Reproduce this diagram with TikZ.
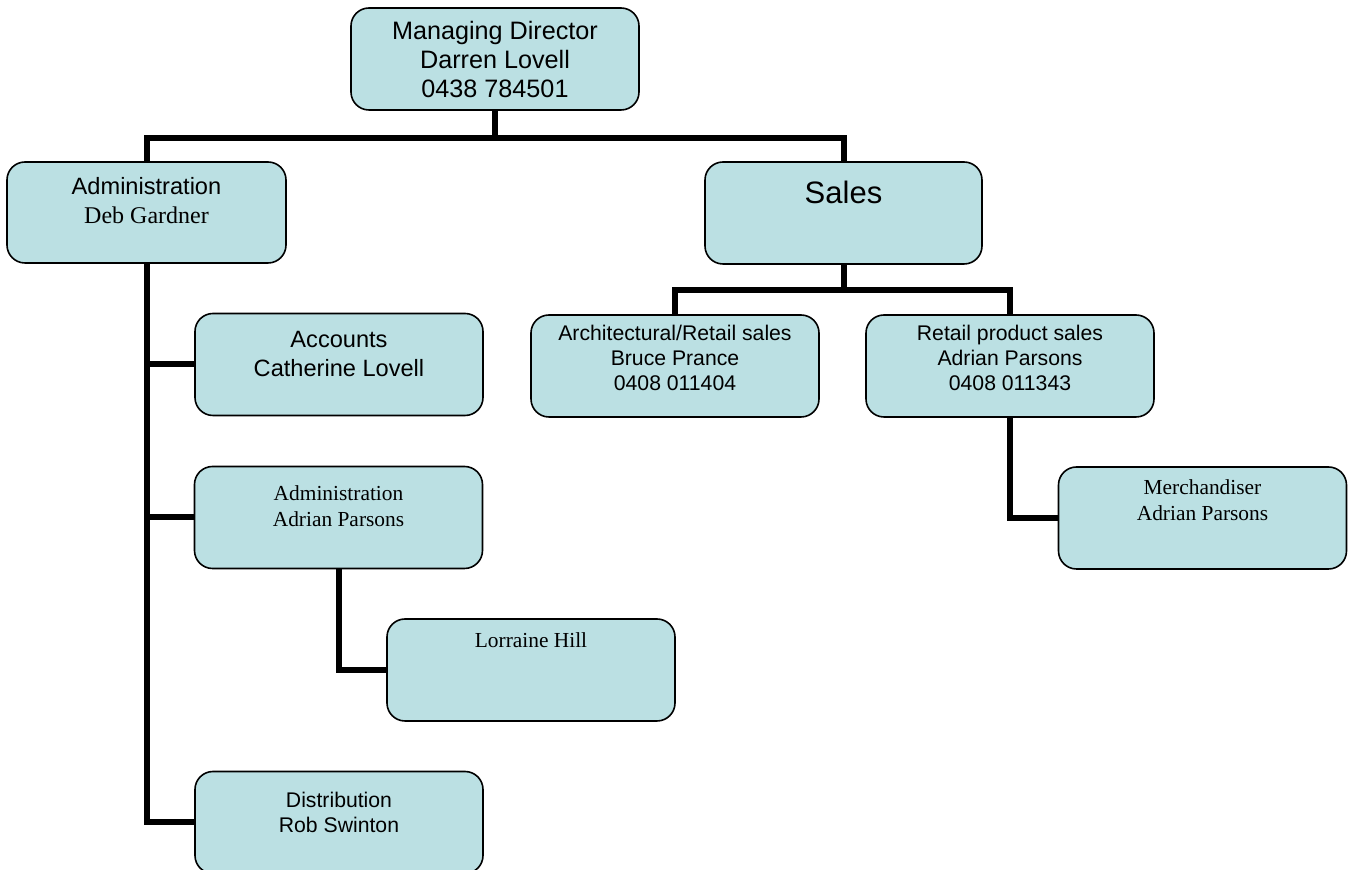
\documentclass[tikz,border=0pt]{standalone}
\usepackage{fontspec}
\setmainfont{Liberation Serif}
\setsansfont{Liberation Sans}

\definecolor{boxfill}{HTML}{BBE0E3}

\tikzset{
  orgbox/.style={draw=black, line width=0.8pt, fill=boxfill, rounded corners=9pt,
    inner sep=0pt, minimum width=144pt, minimum height=51pt},
  link/.style={line width=3pt},
  arbig/.style={font=\sffamily\fontsize{11.8}{14.5}\selectfont, align=center},
  arsm/.style={font=\sffamily\fontsize{10.6}{12.5}\selectfont, align=center},
  tmsm/.style={font=\rmfamily\fontsize{10.7}{13}\selectfont, align=center},
}

\begin{document}
\begin{tikzpicture}[x=0.5pt,y=-0.5pt]
        \useasboundingbox (0,0) rectangle (1351,870);

        % Top of the chart
        \node[orgbox] (md) at (495,59) {};
        \node[arbig, font=\sffamily\fontsize{12.6}{14.5}\selectfont] (mdtext) at (495,60) {Managing Director\\Darren Lovell\\0438 784501};

        % Second level
        \node[orgbox, minimum width=139.5pt, minimum height=50.5pt] (admin) at (146.5,212.5) {};
        \node[arbig] (admintext) at (146.5,201) {Administration\\{\rmfamily\fontsize{12}{13}\selectfont Deb Gardner}};

        \node[orgbox, minimum width=138.5pt] (sales) at (843.5,213) {};
        \node[font=\sffamily\fontsize{15.5}{18}\selectfont] (salestext) at (843.5,192) {Sales};

        % Sales team
        \node[orgbox] (arch) at (675,366) {};
        \node[arsm] (archtext) at (675,358) {Architectural/Retail sales\\Bruce Prance\\0408 011404};

        \node[orgbox] (retail) at (1010,366) {};
        \node[arsm] (retailtext) at (1010,358) {Retail product sales\\Adrian Parsons\\0408 011343};

        \node[orgbox] (merch) at (1202.5,518) {};
        \node[tmsm] (merchtext) at (1202.5,500) {Merchandiser\\Adrian Parsons};

        % Administration team
        \node[orgbox] (accounts) at (339,364.5) {};
        \node[arbig] (accountstext) at (339,354) {Accounts\\Catherine Lovell};

        \node[orgbox] (admintwo) at (338.5,517.5) {};
        \node[tmsm] (admintwotext) at (338.5,506) {Administration\\Adrian Parsons};

        \node[orgbox] (lorraine) at (531,670) {};
        \node[tmsm] (lorrainetext) at (531,640) {Lorraine Hill};

        \node[orgbox] (dist) at (339,822.5) {};
        \node[arsm] (disttext) at (339,812) {Distribution\\Rob Swinton};

        % Connectors
        \coordinate (mdbar) at (495,138);
        \draw[link] (md.south) -- (mdbar) -| (admin.north);
        \draw[link] (mdbar) -| (sales.north);

        \coordinate (salesbar) at (843.5,290);
        \draw[link] (sales.south) -- (salesbar) -| (arch.north);
        \draw[link] (salesbar) -| (retail.north);
        \draw[link] (retail.south) |- (merch.west);

        \draw[link] (admin.south) |- (accounts.west);
        \draw[link] (admin.south) |- (admintwo.west);
        \draw[link] (admin.south) |- (dist.west);
        \draw[link] (admintwo.south) |- (lorraine.west);
    \end{tikzpicture}
\end{document}
